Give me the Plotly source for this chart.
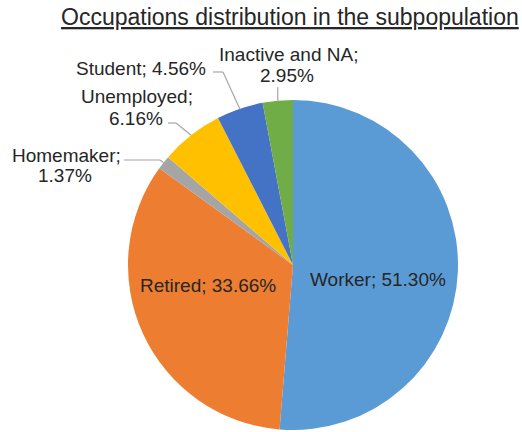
import math
import plotly.graph_objects as go

# Occupation shares (percent), clockwise from 12 o'clock
occupations = ["Worker", "Retired", "Homemaker", "Unemployed", "Student", "Inactive and NA"]
shares = [51.30, 33.66, 1.37, 6.16, 4.56, 2.95]
colors = ["#5B9BD5", "#ED7D31", "#A5A5A5", "#FFC000", "#4472C4", "#70AD47"]

W, H = 522, 432
CX, CY, R = 293, 265, 165          # pie centre and radius in pixels
TEXT = "#262626"
LEADER = "#A6A6A6"
FONT = "Liberation Sans, Arial, sans-serif"


def px(x):
    return x / W


def py(y):
    return 1 - y / H


def edge_point(idx):
    """Point on the pie rim at the middle of slice idx."""
    total = sum(shares)
    before = sum(shares[:idx])
    frac = (before + shares[idx] / 2) / total
    ang = 2 * math.pi * frac          # clockwise from top
    return CX + R * math.sin(ang), CY - R * math.cos(ang)


def label(i, two_lines):
    name = occupations[i]
    val = f"{shares[i]:.2f}%"
    if two_lines:
        return [f"{name};", val]
    return [f"{name}; {val}"]


fig = go.Figure()
fig.add_trace(go.Pie(
    labels=occupations,
    values=shares,
    sort=False,
    direction="clockwise",
    rotation=0,
    marker=dict(colors=colors, line=dict(width=0)),
    textinfo="none",
    hoverinfo="label+percent",
    showlegend=False,
    domain=dict(x=[px(CX - R), px(CX + R)], y=[py(CY + R), py(CY - R)]),
))

annotations = []
shapes = []


def add_text(text, x, y, xanchor="center"):
    annotations.append(dict(
        text=text, x=px(x), y=py(y), xref="paper", yref="paper",
        xanchor=xanchor, yanchor="middle", showarrow=False,
        font=dict(family=FONT, size=19, color=TEXT),
    ))


def add_leader(points):
    for (x0, y0), (x1, y1) in zip(points[:-1], points[1:]):
        shapes.append(dict(
            type="line", xref="paper", yref="paper",
            x0=px(x0), y0=py(y0), x1=px(x1), y1=py(y1),
            line=dict(color=LEADER, width=1.2),
        ))


# Inside labels
add_text(label(0, False)[0], 378, 279)
add_text(label(1, False)[0], 208, 285)

# Homemaker
l1, l2 = label(2, True)
add_text(l1, 66, 155)
add_text(l2, 65, 175)
add_leader([(124, 160), (160, 160), edge_point(2)])

# Unemployed
l1, l2 = label(3, True)
add_text(l1, 137, 97)
add_text(l2, 135.5, 118)
add_leader([(168, 123), (176, 123), edge_point(3)])

# Student
add_text(label(4, False)[0], 208, 68, xanchor="right")
add_leader([(213, 72), (223, 72), edge_point(4)])

# Inactive and NA
l1, l2 = label(5, True)
add_text(l1, 288, 54)
add_text(l2, 287, 75)
ex, ey = edge_point(5)
add_leader([(ex, 87), (ex, ey)])

# Title
annotations.append(dict(
    text="<u>Occupations distribution in the subpopulation</u>",
    x=px(290), y=py(17), xref="paper", yref="paper",
    xanchor="center", yanchor="middle", showarrow=False,
    font=dict(family=FONT, size=23, color=TEXT),
))

fig.update_layout(
    width=W, height=H,
    margin=dict(l=0, r=0, t=0, b=0),
    paper_bgcolor="white",
    plot_bgcolor="white",
    annotations=annotations,
    shapes=shapes,
)

fig.write_html("out.html", config={"displayModeBar": False})
